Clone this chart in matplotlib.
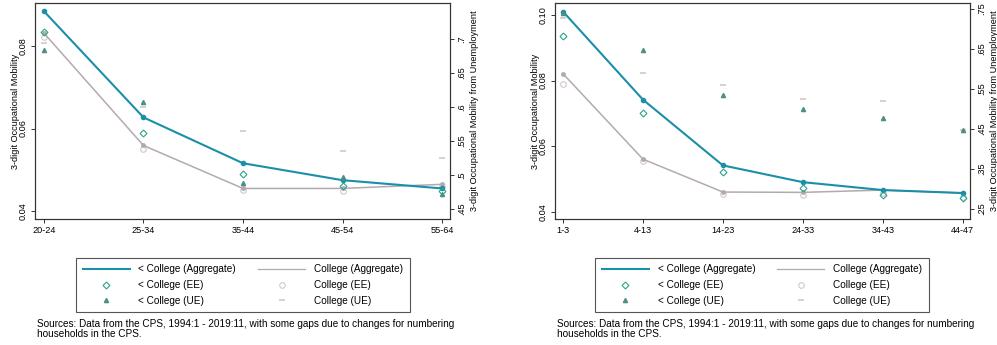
import numpy as np
import matplotlib
matplotlib.use("Agg")
import matplotlib.pyplot as plt
from matplotlib.lines import Line2D

plt.rcParams['font.family'] = ['Liberation Sans', 'DejaVu Sans']

# Left panel: by age group
age_labels = ['20-24', '25-34', '35-44', '45-54', '55-64']
age_lt_agg = [0.0884, 0.0627, 0.0516, 0.0475, 0.0455]
age_col_agg = [0.0831, 0.0559, 0.0455, 0.0455, 0.0465]
age_lt_ee = [0.0834, 0.0590, 0.0490, 0.0462, 0.0450]
age_col_ee = [0.0822, 0.0550, 0.0452, 0.0450, 0.0462]
age_lt_ue = [0.684, 0.607, 0.488, 0.497, 0.472]
age_col_ue = [0.694, 0.600, 0.565, 0.535, 0.525]

# Right panel: by tenure
ten_labels = ['1-3', '4-13', '14-23', '24-33', '34-43', '44-47']
ten_lt_agg = [0.1010, 0.0742, 0.0542, 0.0491, 0.0467, 0.0458]
ten_col_agg = [0.0821, 0.0561, 0.0461, 0.0460, 0.0467, 0.0458]
ten_lt_ee = [0.0936, 0.0700, 0.0522, 0.0473, 0.0452, 0.0443]
ten_col_ee = [0.0791, 0.0555, 0.0455, 0.0452, 0.0458, 0.0445]
ten_lt_ue = [0.740, 0.648, 0.535, 0.500, 0.478, 0.448]
ten_col_ue = [0.728, 0.590, 0.560, 0.525, 0.520, 0.447]

TEAL = '#1b8fa8'
GREY = '#b5a9b1'
EE_C = '#2aa58a'
UE_C = '#4d8f86'
CEE_C = '#cfc7cc'
CUE_C = '#d9c4cc'
FS = 6.6

W, H = 997, 345
fig = plt.figure(figsize=(W / 100, H / 100), dpi=100)


def panel(left, labels, lt_agg, col_agg, lt_ee, col_ee, lt_ue, col_ue,
          ylim, yticks, ylabels, y2lim, y2ticks, y2labels, xpad):
    ax = fig.add_axes([left / W, (H - 219) / H, 415 / W, 216 / H])
    x = np.arange(len(labels))
    ax.plot(x, col_agg, color=GREY, lw=1.1, marker='o', ms=2.5, zorder=3)
    ax.plot(x, lt_agg, color=TEAL, lw=1.5, marker='o', ms=3, zorder=4)
    ax.plot(x, lt_ee, ls='none', marker='D', ms=3.5, mfc='none', mec=EE_C, mew=0.8, zorder=5)
    ax.plot(x, col_ee, ls='none', marker='o', ms=4, mfc='none', mec=CEE_C, mew=0.8, zorder=2)
    ax.set_xlim(-xpad[0], len(labels) - 1 + xpad[1])
    ax.set_ylim(*ylim)
    ax.set_xticks(x)
    ax.set_xticklabels(labels, fontsize=FS)
    ax.set_yticks(yticks)
    ax.set_yticklabels(ylabels, fontsize=FS, rotation=90, va='center')
    ax.set_ylabel('3-digit Occupational Mobility', fontsize=FS, labelpad=-1)
    ax.tick_params(length=3, width=0.7, pad=2, color='#333333')
    for s in ax.spines.values():
        s.set_linewidth(0.8)
        s.set_color('#333333')

    ax2 = ax.twinx()
    ax2.plot(x, lt_ue, ls='none', marker='^', ms=3, color=UE_C, zorder=5)
    ax2.plot(x, col_ue, ls='none', marker='_', ms=5, mew=1.2, color=CUE_C, zorder=2)
    ax2.set_ylim(*y2lim)
    ax2.set_yticks(y2ticks)
    ax2.set_yticklabels(y2labels, fontsize=FS, rotation=90, va='center')
    ax2.set_ylabel('3-digit Occupational Mobility from Unemployment', fontsize=FS, labelpad=3)
    ax2.tick_params(length=3, width=0.7, pad=2, color='#333333')
    for s in ax2.spines.values():
        s.set_linewidth(0.8)
        s.set_color('#333333')
    return ax


panel(35, age_labels, age_lt_agg, age_col_agg, age_lt_ee, age_col_ee, age_lt_ue, age_col_ue,
      (0.0381, 0.0904), [0.04, 0.06, 0.08], ['0.04', '0.06', '0.08'],
      (0.435, 0.753), [0.45, 0.5, 0.55, 0.6, 0.65, 0.7], ['.45', '.5', '.55', '.6', '.65', '.7'],
      (0.09, 0.08))

panel(555, ten_labels, ten_lt_agg, ten_col_agg, ten_lt_ee, ten_col_ee, ten_lt_ue, ten_col_ue,
      (0.0379, 0.1036), [0.04, 0.06, 0.08, 0.10], ['0.04', '0.06', '0.08', '0.10'],
      (0.225, 0.765), [0.25, 0.35, 0.45, 0.55, 0.65, 0.75], ['.25', '.35', '.45', '.55', '.65', '.75'],
      (0.1, 0.09))

handles = [
    Line2D([], [], color=TEAL, lw=1.5),
    Line2D([], [], ls='none', marker='D', ms=3.5, mfc='none', mec=EE_C, mew=0.8),
    Line2D([], [], ls='none', marker='^', ms=3, color=UE_C),
    Line2D([], [], color=GREY, lw=0.9),
    Line2D([], [], ls='none', marker='o', ms=4, mfc='none', mec=CEE_C, mew=0.8),
    Line2D([], [], ls='none', marker='_', ms=5, mew=1.2, color=CUE_C),
]
names = ['< College (Aggregate)', '< College (EE)', '< College (UE)',
         'College (Aggregate)', 'College (EE)', 'College (UE)']

source = ('Sources: Data from the CPS, 1994:1 - 2019:11, with some gaps due to changes for numbering\n'
          'households in the CPS.')

for lx, sx in [(76, 37), (595, 557)]:
    leg = fig.legend(handles, names, ncol=2, loc='upper left',
                     bbox_to_anchor=(lx / W, 1 - 258 / H),
                     fontsize=7.2, handlelength=4.7, handletextpad=0.9, labelspacing=0.55,
                     columnspacing=2.2, borderpad=0.65, borderaxespad=0,
                     fancybox=False, framealpha=1, edgecolor='#555555')
    leg.get_frame().set_linewidth(0.8)
    fig.text(sx / W, 1 - 329 / H, source, fontsize=7.2, va='center', ha='left', linespacing=1.0)

fig.savefig('out.png', dpi=100)
